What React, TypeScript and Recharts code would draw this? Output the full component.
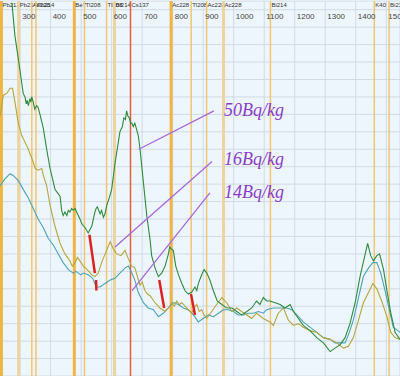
import {
  CartesianGrid,
  Line,
  LineChart,
  ReferenceDot,
  ReferenceLine,
  XAxis,
  YAxis,
} from "recharts";

// spectrum traces, energy in keV and counts (arbitrary units)
const greenKeV = [273, 283, 294, 302, 310, 316, 320, 323, 327, 332, 335, 338, 343, 348, 354, 359, 365, 376, 387, 398, 409, 414, 431, 436, 441, 447, 453, 458, 463, 469, 474, 480, 485, 496, 503, 513, 523, 529, 535, 545, 549, 553, 562, 567, 573, 578, 584, 592, 600, 611, 627, 635, 640, 645, 649, 653, 658, 662, 666, 671, 676, 687, 693, 704, 715, 726, 731, 742, 753, 764, 775, 786, 790, 794, 802, 810, 819, 830, 840, 851, 862, 873, 879, 884, 895, 903, 912, 922, 933, 946, 961, 977, 994, 1010, 1026, 1043, 1059, 1075, 1086, 1097, 1108, 1119, 1136, 1152, 1168, 1185, 1196, 1212, 1228, 1250, 1272, 1294, 1316, 1332, 1349, 1365, 1381, 1398, 1414, 1431, 1439, 1449, 1458, 1469, 1478, 1491, 1502, 1515, 1529, 1545];
const greenCounts = [214, 195, 182, 172, 162, 160, 156, 158, 155, 159, 157, 160, 157, 153, 155, 154, 150, 142, 130, 119, 111, 107, 103, 95, 92, 94, 92, 95, 94, 96, 95, 96, 94, 90, 87, 85, 82, 84, 86, 94, 96, 97, 93, 95, 91, 93, 98, 102, 107, 122, 140, 143, 148, 147, 152, 149, 148, 145, 145, 143, 145, 138, 130, 111, 92, 78, 69, 62, 57, 59, 63, 70, 74, 73, 72, 63, 58, 53, 49, 47, 48, 51, 49, 53, 58, 61, 59, 55, 49, 43, 41, 39, 39, 37, 35, 37, 39, 43, 41, 45, 43, 43, 42, 41, 39, 41, 37, 33, 29, 26, 22, 19, 14, 16, 18, 22, 30, 42, 57, 70, 76, 69, 66, 69, 70, 61, 49, 36, 25, 21];

const oliveKeV = [234, 245, 256, 267, 275, 283, 294, 305, 316, 327, 333, 338, 344, 349, 359, 371, 376, 387, 398, 414, 431, 447, 463, 471, 480, 488, 496, 507, 520, 535, 545, 556, 567, 581, 595, 605, 616, 630, 644, 655, 666, 676, 693, 700, 709, 717, 726, 742, 758, 775, 786, 797, 805, 813, 822, 830, 846, 862, 870, 879, 887, 895, 903, 912, 928, 944, 961, 977, 994, 1010, 1026, 1043, 1059, 1075, 1097, 1119, 1130, 1146, 1163, 1179, 1196, 1212, 1228, 1250, 1272, 1294, 1316, 1338, 1360, 1376, 1392, 1409, 1425, 1442, 1456, 1469, 1485, 1502, 1515, 1529, 1545];
const oliveCounts = [149, 161, 162, 165, 165, 157, 145, 138, 134, 130, 127, 125, 122, 119, 118, 119, 115, 109, 98, 86, 76, 70, 66, 63, 65, 68, 66, 63, 61, 58, 57, 59, 65, 71, 77, 73, 70, 69, 72, 67, 63, 62, 52, 54, 49, 47, 46, 42, 39, 37, 39, 42, 40, 43, 41, 42, 39, 36, 39, 41, 37, 38, 35, 33, 37, 41, 45, 42, 37, 39, 37, 35, 33, 36, 33, 31, 29, 36, 39, 32, 29, 30, 28, 26, 25, 22, 21, 19, 16, 17, 22, 32, 42, 48, 53, 50, 43, 34, 25, 22, 21];

const tealKeV = [234, 250, 267, 277, 294, 310, 327, 343, 359, 376, 392, 409, 425, 441, 458, 474, 483, 491, 499, 507, 523, 538, 549, 562, 578, 595, 611, 627, 644, 655, 666, 676, 687, 704, 720, 737, 753, 769, 786, 802, 819, 835, 851, 868, 884, 900, 917, 933, 950, 966, 982, 999, 1015, 1032, 1048, 1064, 1081, 1097, 1108, 1130, 1152, 1174, 1190, 1207, 1228, 1250, 1272, 1294, 1316, 1332, 1349, 1365, 1379, 1392, 1409, 1425, 1442, 1456, 1469, 1482, 1496, 1510, 1523, 1545];
const tealCounts = [109, 113, 116, 115, 112, 107, 102, 96, 90, 85, 79, 75, 70, 65, 61, 59, 60, 59, 58, 59, 58, 56, 51, 51, 53, 55, 56, 59, 62, 63, 59, 55, 48, 42, 39, 38, 34, 36, 39, 42, 41, 39, 38, 35, 31, 33, 35, 34, 36, 38, 38, 37, 35, 35, 36, 36, 37, 36, 38, 39, 39, 39, 38, 35, 31, 28, 25, 22, 21, 19, 19, 19, 25, 32, 45, 57, 62, 65, 65, 59, 49, 38, 28, 25];

// nuclide marker lines
const markerKeV = [238.6, 295.2, 338.3, 351.9, 477.6, 510.8, 583.2, 609.3, 794.9, 860.6, 911.2, 966.5, 1120.3, 1460.8, 1509.2];
const markerNames = ["Pb212", "Pb214", "Ac228", "Pb214", "Be7", "Tl208", "Tl208", "Bi214", "Ac228", "Tl208", "Ac228", "Ac228", "Bi214", "K40", "Bi214"];
const markerKinds = ["strong", "pale", "thin", "thin", "strong", "thin", "thin", "pale", "strong", "thin", "thin", "pale", "thin", "thin", "thin"];
const cs137KeV = 661.7;

const xTicks = [300, 400, 500, 600, 700, 800, 900, 1000, 1100, 1200, 1300, 1400, 1500];
const yTicks = [0, 10, 20, 30, 40, 50, 60, 70, 80, 90, 100, 110, 120, 130, 140, 150, 160, 170, 180, 190, 200, 210];

// annotations: activity labels with pointer lines, and red peak heights
const activityLabels = ["50Bq/kg", "16Bq/kg", "14Bq/kg"];
const labelAnchors = [
  { x: 968, y: 149 },
  { x: 968, y: 121 },
  { x: 968, y: 102 },
];
const pointerLines = [
  [{ x: 689, y: 130 }, { x: 935, y: 152 }],
  [{ x: 611, y: 74 }, { x: 929, y: 123 }],
  [{ x: 667, y: 49 }, { x: 922, y: 105 }],
];
const peakHeights = [
  [{ x: 527, y: 81 }, { x: 545, y: 59 }],
  [{ x: 549, y: 55 }, { x: 550, y: 49 }],
  [{ x: 756, y: 55 }, { x: 772, y: 39 }],
  [{ x: 860, y: 47 }, { x: 873, y: 35 }],
];

const markerStyle: Record<string, { stroke: string; width: number }> = {
  strong: { stroke: "#f0b440", width: 3 },
  pale: { stroke: "#ecd3a0", width: 3 },
  thin: { stroke: "#f2c56e", width: 1.5 },
};

const zip = (e: number[], c: number[]) => e.map((v, i) => ({ e: v, c: c[i] }));
const greenData = zip(greenKeV, greenCounts);
const oliveData = zip(oliveKeV, oliveCounts);
const tealData = zip(tealKeV, tealCounts);

const FONT = "'Liberation Sans', Arial, sans-serif";

function TopTick(props: any) {
  const { x, payload } = props;
  return (
    <text x={x + 2} y={19} fontSize={8} fontFamily={FONT} fill="#444">
      {payload.value}
    </text>
  );
}

function markerLabel(name: string) {
  return (props: any) => (
    <text x={props.viewBox.x + 1} y={7} fontSize={6} fontFamily={FONT} fill="#333">
      {name}
    </text>
  );
}

export default function App() {
  return (
    <div style={{ width: 400, height: 376 }}>
      <style>{"body{margin:0}"}</style>
      <LineChart
        width={400}
        height={376}
        margin={{ top: 0, right: 0, bottom: 0, left: 0 }}
      >
        <CartesianGrid fill="#eef6fd" stroke="#d0dae6" strokeWidth={1} />
        <XAxis
          type="number"
          dataKey="e"
          domain={[234, 1545]}
          ticks={xTicks}
          interval={0}
          orientation="top"
          height={1}
          axisLine={false}
          tickLine={false}
          tick={(p: any) => <TopTick {...p} />}
          allowDataOverflow
        />
        <YAxis type="number" domain={[0, 215]} ticks={yTicks} interval={0} hide width={0} allowDataOverflow />
        {markerKeV.map((e, i) => (
          <ReferenceLine
            key={`m${i}`}
            x={e}
            stroke={markerStyle[markerKinds[i]].stroke}
            strokeWidth={markerStyle[markerKinds[i]].width}
            label={markerLabel(markerNames[i])}
          />
        ))}
        <ReferenceLine
          x={cs137KeV}
          stroke="#e0603a"
          strokeWidth={1.5}
          label={markerLabel("Cs137")}
        />
        <Line data={tealData} dataKey="c" stroke="#4aa3b6" strokeWidth={1.1} dot={false} activeDot={false} isAnimationActive={false} />
        <Line data={oliveData} dataKey="c" stroke="#b5a63c" strokeWidth={1.1} dot={false} activeDot={false} isAnimationActive={false} />
        <Line data={greenData} dataKey="c" stroke="#2d8a3a" strokeWidth={1.1} dot={false} activeDot={false} isAnimationActive={false} />
        {pointerLines.map((seg, i) => (
          <ReferenceLine key={`p${i}`} segment={seg} stroke="#a668e0" strokeWidth={1.3} />
        ))}
        {peakHeights.map((seg, i) => (
          <ReferenceLine key={`r${i}`} segment={seg} stroke="#e02020" strokeWidth={2.5} />
        ))}
        {activityLabels.map((t, i) => (
          <ReferenceDot
            key={`t${i}`}
            x={labelAnchors[i].x}
            y={labelAnchors[i].y}
            r={0}
            shape={(p: any) => (
              <text
                x={p.cx}
                y={p.cy}
                fontSize={18}
                fontStyle="italic"
                fontFamily="'Liberation Serif', 'Times New Roman', serif"
                fill="#8a3cc8"
              >
                {t}
              </text>
            )}
          />
        ))}
      </LineChart>
    </div>
  );
}
